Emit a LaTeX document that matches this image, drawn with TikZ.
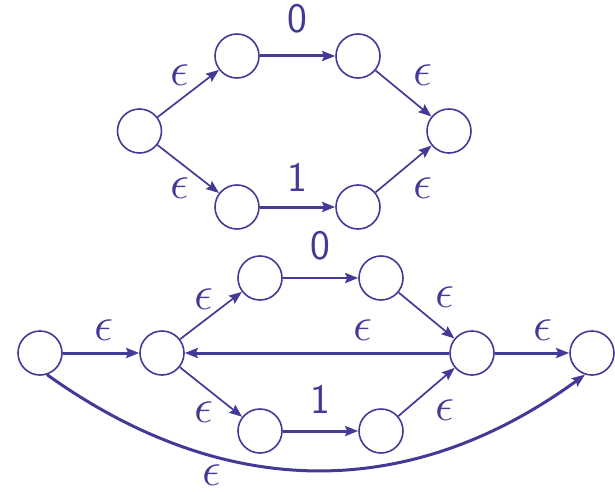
\RequirePackage{fix-cm}
\documentclass[tikz,border=0pt]{standalone}
\usetikzlibrary{arrows.meta}
\definecolor{ink}{RGB}{67,57,150}
\begin{document}
\begin{tikzpicture}[x=1pt,y=-1pt,
  st/.style={circle,draw=ink,line width=1.6pt,minimum size=44pt,inner sep=0pt},
  thin/.style={draw=ink,line width=1.7pt,-{Stealth[length=13pt,width=10pt,inset=2pt]}},
  thick/.style={draw=ink,line width=3pt,-{Stealth[length=13pt,width=10pt,inset=2pt]}},
  eps/.style={text=ink,font=\fontsize{48}{56}\selectfont,inner sep=0pt},
  sym/.style={text=ink,font=\sffamily\fontsize{42}{50}\selectfont,inner sep=0pt}]
\useasboundingbox (0,0) rectangle (615,492);
% top automaton
\node[st] (A) at (139.5,131) {};
\node[st] (B) at (237,56) {};
\node[st] (C) at (358,56) {};
\node[st] (D) at (449,131) {};
\node[st] (E) at (237,207) {};
\node[st] (F) at (358,207) {};
\draw[thin] (A) -- (B);
\draw[thin] (A) -- (E);
\draw[thick] (B) -- (C);
\draw[thick] (E) -- (F);
\draw[thin] (C) -- (D);
\draw[thin] (F) -- (D);
\node[sym] (t0) at (297,19) {0};
\node[sym] (t1) at (297,177) {1};
\node[eps] (te1) at (180,75) {$\epsilon$};
\node[eps] (te2) at (180,188) {$\epsilon$};
\node[eps] (te3) at (423,75) {$\epsilon$};
\node[eps] (te4) at (423,188) {$\epsilon$};
% bottom automaton
\node[st] (G) at (40,353) {};
\node[st] (H) at (162,353) {};
\node[st] (I) at (260,278) {};
\node[st] (J) at (381,278) {};
\node[st] (K) at (472,353) {};
\node[st] (L) at (592,353) {};
\node[st] (M) at (260,431) {};
\node[st] (N) at (381,431) {};
\draw[thick] (G) -- (H);
\draw[thin] (H) -- (I);
\draw[thin] (H) -- (M);
\draw[thin,line width=2.2pt] (I) -- (J);
\draw[thick] (M) -- (N);
\draw[thin] (J) -- (K);
\draw[thin] (N) -- (K);
\draw[thick] (K) -- (H);
\draw[thick] (K) -- (L);
\draw[thick] (G.-72) .. controls (225,502) and (410,502) .. (L.-108);
\node[sym] (b0) at (320,246) {0};
\node[sym] (b1) at (320,399) {1};
\node[eps] (be1) at (104,330) {$\epsilon$};
\node[eps] (be2) at (204,299) {$\epsilon$};
\node[eps] (be3) at (204,412) {$\epsilon$};
\node[eps] (be4) at (445,297) {$\epsilon$};
\node[eps] (be5) at (445,410) {$\epsilon$};
\node[eps] (be6) at (363,330) {$\epsilon$};
\node[eps] (be7) at (543,330) {$\epsilon$};
\node[eps] (be8) at (212,475) {$\epsilon$};
\end{tikzpicture}
\end{document}
